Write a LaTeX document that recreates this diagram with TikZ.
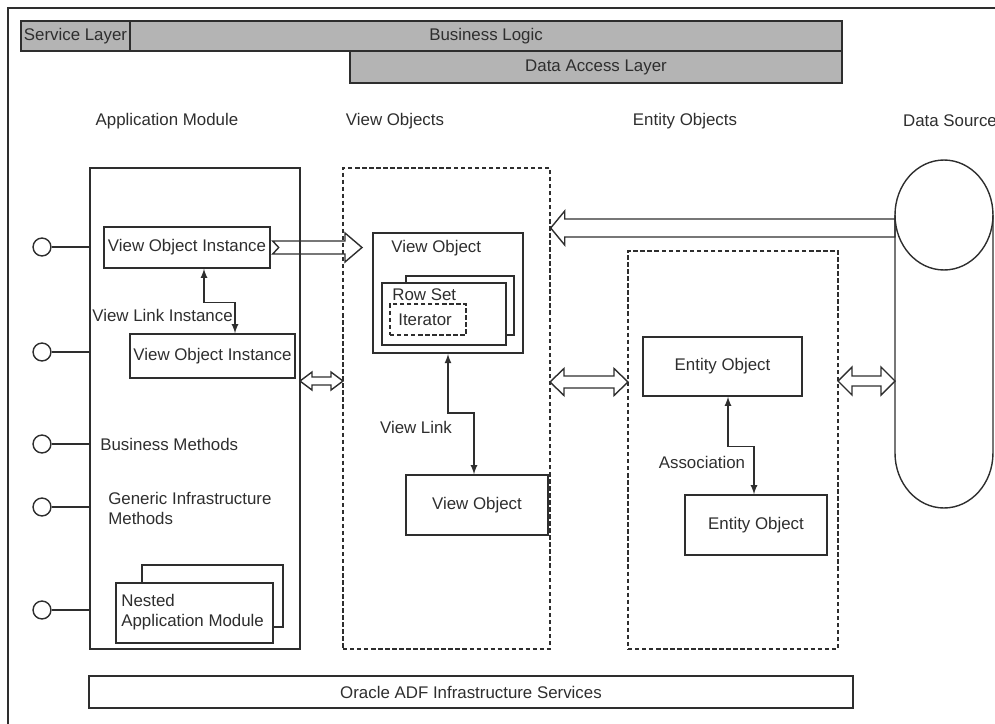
\documentclass[tikz,border=0pt]{standalone}
\usepackage{fontspec}
\setmainfont{Liberation Sans}
\usetikzlibrary{calc,fit,positioning}
\tikzset{>=latex}
\definecolor{ink}{HTML}{2E2E2E}
\definecolor{barfill}{HTML}{B4B4B4}
\tikzstyle{layer}=[draw=ink,fill=barfill,line width=0.9pt,inner sep=0pt]
\tikzstyle{box}=[draw=ink,line width=0.8pt,inner sep=0pt]
\tikzstyle{dbox}=[draw=ink,line width=0.8pt,dash pattern=on 2.5pt off 1.5pt,inner sep=0pt]
\tikzstyle{port}=[circle,draw=ink,line width=0.8pt,minimum size=10.2pt,inner sep=0pt]
\tikzstyle{hollow}=[draw=ink,line width=0.8pt,line join=miter]
\tikzstyle{link}=[<->,draw=ink,line width=0.8pt]
\tikzstyle{lbl}=[inner sep=0pt,text=ink]

\begin{document}
\begin{tikzpicture}[x=0.02cm,y=-0.02cm,font=\fontsize{9.6}{11.4}\selectfont,text=ink]
	\useasboundingbox (0,0) rectangle (995,724);
	\draw[ink,line width=1pt] (8,724) -- (8,8) -- (995,8);

	% layers on top
	\node[layer, fit={(130,21)(842,51)}, label={[lbl]center:Business Logic}] (blogic) {};
	\node[layer, fit={(21,21)(130,51)}, label={[lbl]center:Service Layer}] (svc) {};
	\node[layer, fit={(350,51)(842,83)}, label={[lbl]center:Data Access Layer}] (dal) {};

	\node[lbl] (hdam) at (167,121) {Application Module};
	\node[lbl] (hdvo) at (395,121) {View Objects};
	\node[lbl] (hdeo) at (685,121) {Entity Objects};
	\node[lbl] (hdds) at (950,121) {Data Source};

	% application module
	\node[box, line width=1pt, fit={(90,168)(300,649)}] (am) {};
	\node[box, fit={(104,227)(270,268)}, label={[lbl]center:View Object Instance}] (voi1) {};
	\node[box, fit={(130,334)(295,378)}, label={[lbl]center:View Object Instance}] (voi2) {};
	\draw[link] ($(voi1.south)+(17,0)$) -- ++(0,34) -| ($(voi2.north)+(22.5,0)$);
	\node[lbl, anchor=west] (vli) at (92,315) {View Link Instance};
	\node[lbl, anchor=west] (bm) at (100,444) {Business Methods};
	\node[lbl, anchor=west, align=left] (gim) at (108,508) {Generic Infrastructure\\Methods};
	\node[box, fit={(142,565)(283,627)}] (nam2) {};
	\node[box, fill=white, fit={(116,583)(273,643)}] (nam) {};
	\node[lbl, anchor=west, align=left] (namtxt) at (121,612) {Nested\\Application Module};

	\foreach \y [count=\i] in {247,352,444,507,610} {
		\node[port] (port\i) at (42,\y) {};
		\draw[ink,line width=0.8pt] (port\i) -- (am.west |- port\i);
	};

	% view objects
	\node[dbox, fit={(343,168)(550,649)}] (vos) {};
	\node[box, line width=1.1pt, fit={(373,233)(523,353)}] (vo1) {};
	\node[lbl, anchor=west] (vo1txt) at (391,248) {View Object};
	\node[box, fit={(406,276)(514,335)}] (rs2) {};
	\node[box, fill=white, fit={(382,283)(506,345)}] (rs) {};
	\node[lbl, anchor=west] (rstxt) at (392,295) {Row Set};
	\node[dbox, fit={(390,304)(466,335)}] (iter) {};
	\node[lbl, anchor=west] (itertxt) at (398,320) {Iterator};
	\node[box, fit={(406,475)(548,535)}, label={[lbl]center:View Object}] (vo2) {};
	\draw[link] (vo1.south) -- ++(0,59) -| ($(vo2.north)+(-3,0)$);
	\node[lbl] (vl) at (416,427) {View Link};

	% entity objects
	\node[dbox, fit={(628,251)(838,649)}] (eos) {};
	\node[box, fit={(643,337)(802,396)}, label={[lbl]center:Entity Object}] (eo1) {};
	\node[box, fit={(685,495)(827,555)}, label={[lbl]center:Entity Object}] (eo2) {};
	\draw[link] ($(eo1.south)+(5.5,0)$) -- ++(0,50) -| ($(eo2.north)+(-2,0)$);
	\node[lbl] (asc) at (702,462) {Association};

	% data source
	\coordinate (ds) at (944,215);
	\draw[ink,line width=0.8pt] (ds) ellipse [x radius=0.98cm, y radius=1.1cm];
	\draw[ink,line width=0.8pt] (895,215) -- (895,453) arc [start angle=180, end angle=360, x radius=0.98cm, y radius=1.1cm] -- (993,215);

	% hollow arrows
	\coordinate (s1) at ($(voi1.east)+(2,0)$);
	\coordinate (e1) at (362,247.5);
	\draw[hollow] (s1) ++(0,-6.5) -- ($(e1)+(-17,-6.5)$) -- ($(e1)+(-17,-14.5)$) -- (e1)
		-- ($(e1)+(-17,14.5)$) -- ($(e1)+(-17,6.5)$) -- ($(s1)+(0,6.5)$) -- ($(s1)+(6,0)$) -- cycle;
	\coordinate (e2) at (vos.east |- 0,228);
	\coordinate (s2) at (895,228);
	\draw[hollow] (e2) -- ($(e2)+(14,-17)$) -- ($(e2)+(14,-9)$) -- ($(s2)+(0,-9)$)
		-- ($(s2)+(0,9)$) -- ($(e2)+(14,9)$) -- ($(e2)+(14,17)$) -- cycle;

	\coordinate (amr) at (300,381);
	\coordinate (vol) at (343,381);
	\coordinate (vor) at (550,382);
	\coordinate (eol) at (628,382);
	\coordinate (eor) at (838,381);
	\coordinate (dsl) at (895,381);
	\foreach \a/\b/\hl/\hh/\hs in {amr/vol/12/9/4, vor/eol/14/13.5/6, eor/dsl/14/14/5} {
		\draw[hollow] (\a) -- ($(\a)+(\hl,-\hh)$) -- ($(\a)+(\hl,-\hs)$) -- ($(\b)+(-\hl,-\hs)$)
			-- ($(\b)+(-\hl,-\hh)$) -- (\b) -- ($(\b)+(-\hl,\hh)$) -- ($(\b)+(-\hl,\hs)$)
			-- ($(\a)+(\hl,\hs)$) -- ($(\a)+(\hl,\hh)$) -- cycle;
	};

	\node[box, fit={(89,676)(853,708)}, label={[lbl]center:Oracle ADF Infrastructure Services}] (oracle) {};
\end{tikzpicture}
\end{document}
